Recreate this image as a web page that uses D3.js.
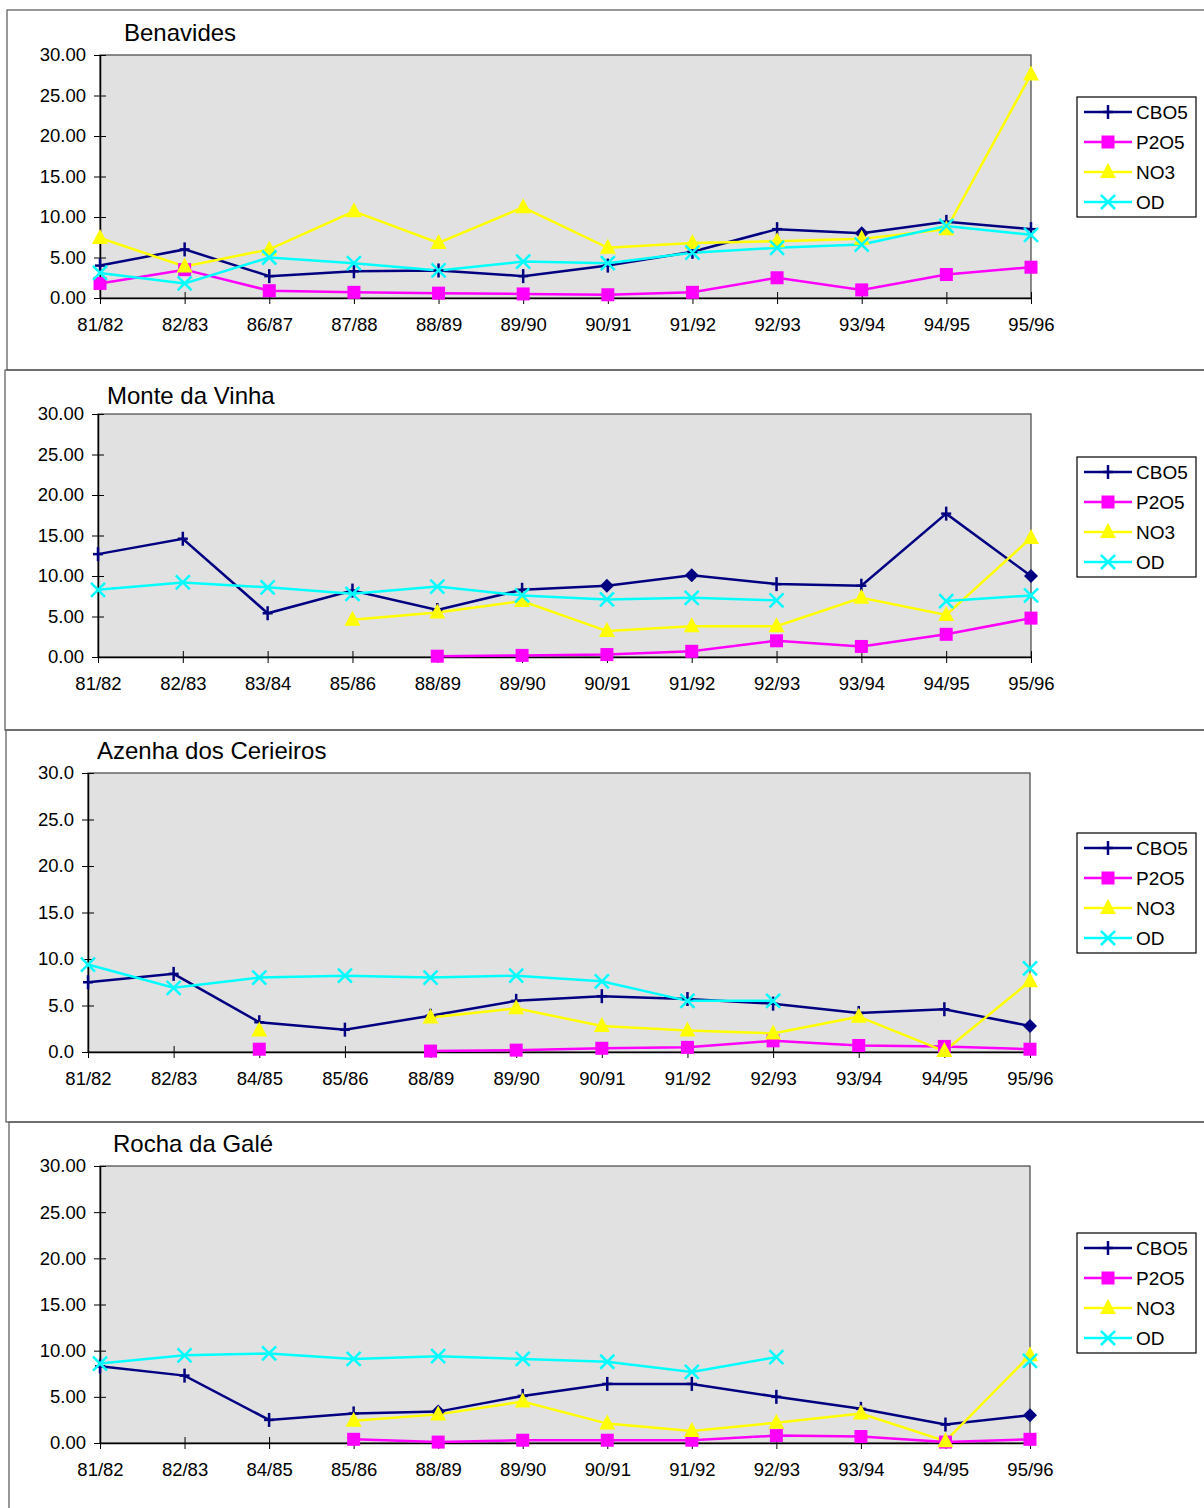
<!DOCTYPE html>
<html>
<head>
<meta charset="utf-8">
<script src="https://cdn.jsdelivr.net/npm/d3@7"></script>
<style>
  body { margin: 0; background: #fff; }
  text { font-family: "Liberation Sans", Arial, sans-serif; fill: #000; }
</style>
</head>
<body>
<svg id="chart" width="1204" height="1508"></svg>
<script>
// series shared by all four stations
const seriesNames = ["CBO5", "P2O5", "NO3", "OD"];
const seriesColors = ["#000080", "#ff00ff", "#ffff00", "#00ffff"];
const seriesMarkers = ["plus", "square", "triangle", "cross"];

// Benavides
const benavidesYears = ["81/82","82/83","86/87","87/88","88/89","89/90","90/91","91/92","92/93","93/94","94/95","95/96"];
const benavidesCBO5 = [4.0, 6.0, 2.7, 3.3, 3.4, 2.7, 4.0, 5.7, 8.5, 8.0, 9.4, 8.5];
const benavidesP2O5 = [1.8, 3.5, 0.9, 0.7, 0.6, 0.5, 0.4, 0.7, 2.5, 1.0, 2.9, 3.8];
const benavidesNO3 = [7.4, 3.9, 6.0, 10.7, 6.8, 11.2, 6.2, 6.8, 7.0, 7.3, 8.5, 27.6];
const benavidesOD = [3.1, 1.8, 5.0, 4.3, 3.4, 4.5, 4.3, 5.6, 6.2, 6.6, 8.9, 7.8];

// Monte da Vinha
const monteYears = ["81/82","82/83","83/84","85/86","88/89","89/90","90/91","91/92","92/93","93/94","94/95","95/96"];
const monteCBO5 = [12.7, 14.6, 5.4, 8.2, 5.8, 8.3, 8.8, 10.1, 9.0, 8.8, 17.7, 10.0];
const monteP2O5 = [null, null, null, null, 0.1, 0.2, 0.3, 0.7, 2.0, 1.3, 2.8, 4.8];
const monteNO3 = [null, null, null, 4.6, 5.5, 6.9, 3.2, 3.8, 3.8, 7.3, 5.2, 14.7];
const monteOD = [8.3, 9.2, 8.6, 7.8, 8.7, 7.6, 7.1, 7.3, 7.0, null, 6.9, 7.6];

// Azenha dos Cerieiros
const azenhaYears = ["81/82","82/83","84/85","85/86","88/89","89/90","90/91","91/92","92/93","93/94","94/95","95/96"];
const azenhaCBO5 = [7.5, 8.4, 3.2, 2.4, 3.9, 5.5, 6.0, 5.7, 5.2, 4.2, 4.6, 2.8];
const azenhaP2O5 = [null, null, 0.3, null, 0.1, 0.2, 0.4, 0.5, 1.2, 0.7, 0.6, 0.3];
const azenhaNO3 = [null, null, 2.3, null, 3.7, 4.7, 2.8, 2.3, 2.0, 3.8, 0.1, 7.6];
const azenhaOD = [9.4, 6.9, 8.0, 8.2, 8.0, 8.2, 7.6, 5.5, 5.5, null, null, 9.0];

// Rocha da Galé
const rochaYears = ["81/82","82/83","84/85","85/86","88/89","89/90","90/91","91/92","92/93","93/94","94/95","95/96"];
const rochaCBO5 = [8.3, 7.3, 2.5, 3.2, 3.4, 5.1, 6.4, 6.4, 5.0, 3.7, 2.0, 3.0];
const rochaP2O5 = [null, null, null, 0.4, 0.1, 0.3, 0.3, 0.3, 0.8, 0.7, 0.1, 0.4];
const rochaNO3 = [null, null, null, 2.4, 3.1, 4.5, 2.1, 1.3, 2.2, 3.2, 0.2, 9.5];
const rochaOD = [8.6, 9.5, 9.7, 9.1, 9.4, 9.1, 8.8, 7.7, 9.3, null, null, 8.9];

const yTicks = [0, 5, 10, 15, 20, 25, 30];

// points where the CBO5 marker shows as a diamond
const benavidesDiamonds = [9];
const monteDiamonds = [6, 7, 11];
const azenhaDiamonds = [11];
const rochaDiamonds = [4, 11];

const panels = [
  { title: "Benavides", years: benavidesYears, values: [benavidesCBO5, benavidesP2O5, benavidesNO3, benavidesOD],
    diamonds: benavidesDiamonds, fmt: ".2f",
    frame: { x: 7, y: 10, h: 360 }, plot: { l: 100, r: 1031, t: 55, b: 298 }, titleX: 124, titleY: 41, legendY: 97 },
  { title: "Monte da Vinha", years: monteYears, values: [monteCBO5, monteP2O5, monteNO3, monteOD],
    diamonds: monteDiamonds, fmt: ".2f",
    frame: { x: 5, y: 370, h: 360 }, plot: { l: 98, r: 1031, t: 414, b: 657 }, titleX: 107, titleY: 404, legendY: 457 },
  { title: "Azenha dos Cerieiros", years: azenhaYears, values: [azenhaCBO5, azenhaP2O5, azenhaNO3, azenhaOD],
    diamonds: azenhaDiamonds, fmt: ".1f",
    frame: { x: 6, y: 730, h: 392 }, plot: { l: 88, r: 1030, t: 773, b: 1052 }, titleX: 97, titleY: 759, legendY: 833 },
  { title: "Rocha da Galé", years: rochaYears, values: [rochaCBO5, rochaP2O5, rochaNO3, rochaOD],
    diamonds: rochaDiamonds, fmt: ".2f",
    frame: { x: 9, y: 1122, h: 388 }, plot: { l: 100, r: 1030, t: 1166, b: 1443 }, titleX: 113, titleY: 1152, legendY: 1233 }
];

const svg = d3.select("#chart");

function drawMarker(g, type, x, y, color) {
  if (type === "plus") {
    g.append("line").attr("x1", x).attr("x2", x).attr("y1", y - 7).attr("y2", y + 7)
      .attr("stroke", color).attr("stroke-width", 2.5);
    g.append("line").attr("x1", x - 5).attr("x2", x + 5).attr("y1", y).attr("y2", y)
      .attr("stroke", color).attr("stroke-width", 2.5);
  } else if (type === "diamond") {
    g.append("path").attr("d", `M${x},${y - 7}L${x + 7},${y}L${x},${y + 7}L${x - 7},${y}Z`).attr("fill", color);
  } else if (type === "square") {
    g.append("rect").attr("x", x - 6.5).attr("y", y - 6.5).attr("width", 13).attr("height", 13).attr("fill", color);
  } else if (type === "triangle") {
    g.append("path").attr("d", `M${x},${y - 9}L${x + 8},${y + 6}L${x - 8},${y + 6}Z`).attr("fill", color);
  } else if (type === "cross") {
    g.append("path").attr("d", `M${x - 7},${y - 7}L${x + 7},${y + 7}M${x - 7},${y + 7}L${x + 7},${y - 7}`)
      .attr("stroke", color).attr("stroke-width", 2.5);
  }
}

panels.forEach(p => {
  const g = svg.append("g");

  // outer chart frame
  g.append("rect")
    .attr("x", p.frame.x).attr("y", p.frame.y)
    .attr("width", 1204 - p.frame.x + 5).attr("height", p.frame.h)
    .attr("fill", "none").attr("stroke", "#555").attr("stroke-width", 1.2);

  const x = d3.scalePoint().domain(p.years).range([p.plot.l, p.plot.r]).padding(0);
  const y = d3.scaleLinear().domain([0, 30]).range([p.plot.b, p.plot.t]);

  g.append("rect")
    .attr("x", p.plot.l).attr("y", p.plot.t)
    .attr("width", p.plot.r - p.plot.l).attr("height", p.plot.b - p.plot.t)
    .attr("fill", "#e1e1e1").attr("stroke", "#444").attr("stroke-width", 1.2);

  const yAxis = g.append("g")
    .attr("transform", `translate(${p.plot.l},0)`)
    .call(d3.axisLeft(y).tickValues(yTicks).tickFormat(d3.format(p.fmt)).tickSizeInner(6).tickSizeOuter(0).tickPadding(8));
  yAxis.selectAll(".tick line").attr("x2", 6).attr("x1", -6).attr("stroke", "#000");
  yAxis.select(".domain").attr("stroke", "#000").attr("stroke-width", 1.5);
  yAxis.selectAll("text").attr("font-size", 18.5).attr("x", -14)
    .style("font-family", '"Liberation Sans", Arial, sans-serif');

  const xAxis = g.append("g")
    .attr("transform", `translate(0,${p.plot.b})`)
    .call(d3.axisBottom(x).tickSizeInner(6).tickSizeOuter(0).tickPadding(14));
  xAxis.selectAll(".tick line").attr("y1", -6).attr("y2", 6).attr("stroke", "#000");
  xAxis.select(".domain").attr("stroke", "#000").attr("stroke-width", 1.5);
  xAxis.selectAll("text").attr("font-size", 18.5)
    .style("font-family", '"Liberation Sans", Arial, sans-serif');

  g.append("text")
    .attr("x", p.titleX).attr("y", p.titleY)
    .attr("font-size", 24)
    .text(p.title);

  const line = d3.line()
    .defined(d => d.v !== null)
    .x(d => x(d.year))
    .y(d => y(d.v));

  p.values.forEach((vals, si) => {
    const pts = vals.map((v, i) => ({ year: p.years[i], v: v, i: i }));
    g.append("path")
      .datum(pts)
      .attr("d", line)
      .attr("fill", "none")
      .attr("stroke", seriesColors[si])
      .attr("stroke-width", 2.5);
  });

  p.values.forEach((vals, si) => {
    const mg = g.append("g");
    vals.forEach((v, i) => {
      if (v === null) return;
      let type = seriesMarkers[si];
      if (si === 0 && p.diamonds.includes(i)) type = "diamond";
      drawMarker(mg, type, x(p.years[i]), y(v), seriesColors[si]);
    });
  });

  // legend
  const lg = g.append("g");
  lg.append("rect")
    .attr("x", 1077).attr("y", p.legendY)
    .attr("width", 119).attr("height", 120)
    .attr("fill", "#fff").attr("stroke", "#000").attr("stroke-width", 1.2);
  seriesNames.forEach((name, si) => {
    const ly = p.legendY + 15 + si * 30;
    lg.append("line")
      .attr("x1", 1084).attr("x2", 1132).attr("y1", ly).attr("y2", ly)
      .attr("stroke", seriesColors[si]).attr("stroke-width", 2.5);
    drawMarker(lg, seriesMarkers[si], 1108, ly, seriesColors[si]);
    lg.append("text")
      .attr("x", 1136).attr("y", ly + 7)
      .attr("font-size", 19)
      .text(name);
  });
});
</script>
</body>
</html>
